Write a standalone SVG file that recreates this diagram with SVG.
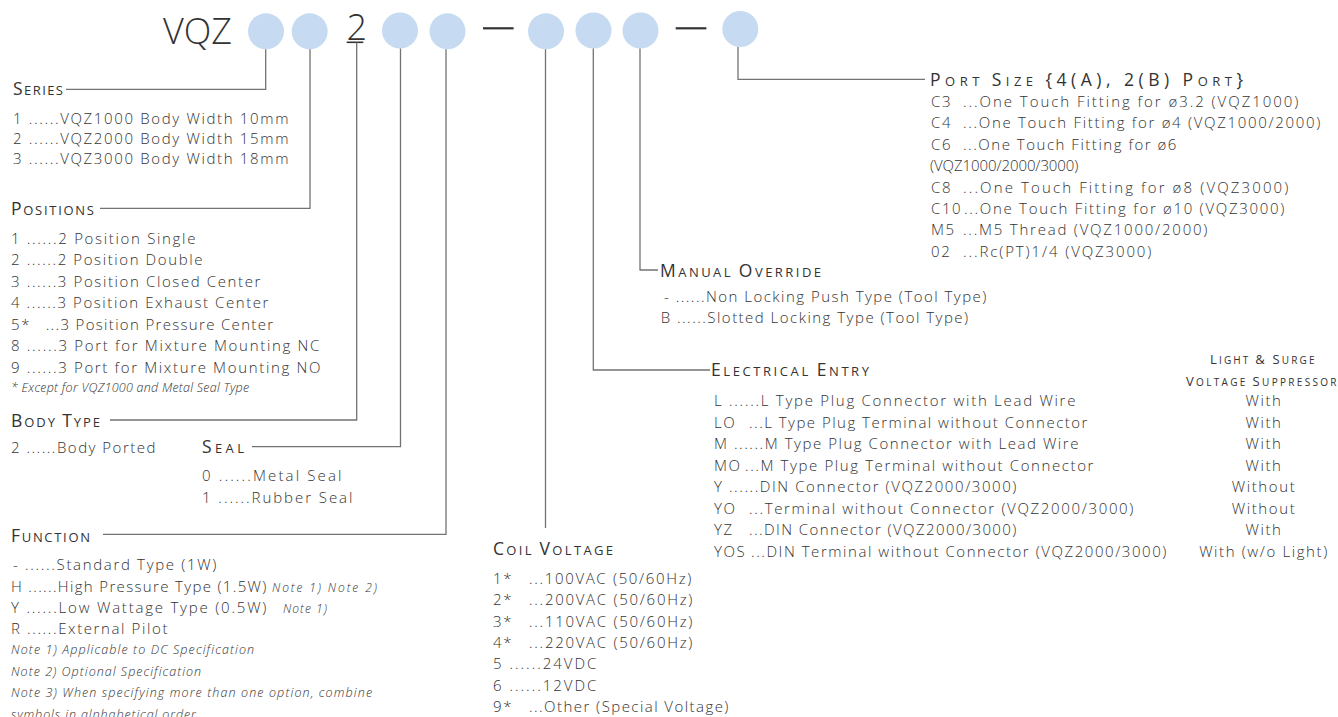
<svg xmlns="http://www.w3.org/2000/svg" width="1338" height="717" viewBox="0 0 1338 717">
<style>
text{font-family:"Open Sans","Liberation Sans",sans-serif;font-weight:300;fill:#333}
.t{font-size:15px;letter-spacing:1.6px}
.n{font-size:12.5px;letter-spacing:0.9px;font-style:italic}
.ni{font-size:12px;letter-spacing:1.2px;font-style:italic}
.h{font-size:17.5px;letter-spacing:2px;font-weight:400}
.s{font-size:13px}
.hl{font-size:13px;letter-spacing:1.5px;font-weight:400}
.sl{font-size:10px}
.big{font-size:36px;letter-spacing:0;fill:#333}
.c{text-anchor:middle}
.dot{fill:#c6dbf1}
.conn{fill:none;stroke:#737373;stroke-width:1.3}
.dash{stroke:#333;stroke-width:2.2}
</style>
<g id="code">
<text class="big" x="163" y="44.3">VQZ</text>
<circle class="dot" cx="266" cy="31.3" r="18"/>
<circle class="dot" cx="309.7" cy="31.3" r="18"/>
<text class="big" x="346.5" y="39.5">2</text>
<line class="dash" x1="346.7" y1="42.3" x2="363.3" y2="42.3" style="stroke-width:1.6"/>
<circle class="dot" cx="400" cy="30.5" r="18"/>
<circle class="dot" cx="447.5" cy="31.3" r="18"/>
<line class="dash" x1="483" y1="28.3" x2="513.6" y2="28.3"/>
<circle class="dot" cx="546" cy="31.3" r="18"/>
<circle class="dot" cx="593.5" cy="30.5" r="18"/>
<circle class="dot" cx="640.5" cy="30.5" r="18"/>
<line class="dash" x1="675.7" y1="28.3" x2="706.4" y2="28.3"/>
<circle class="dot" cx="740.3" cy="29" r="18"/>
</g>
<g id="connectors">
<path class="conn" d="M265.7,49.3 V89.3 H66"/>
<path class="conn" d="M310,49.3 V208.3 H100"/>
<path class="conn" d="M356.7,42.5 V420 H110"/>
<path class="conn" d="M400.5,48.5 V446.7 H252"/>
<path class="conn" d="M446,49.3 V534.3 H103"/>
<path class="conn" d="M545.5,49.3 V528"/>
<path class="conn" d="M593.3,48.5 V370 H710"/>
<path class="conn" d="M640,48.5 V270 H658"/>
<path class="conn" d="M738,47 V79.3 H925"/>
</g>
<g id="series">
<text class="h" x="13" y="95" textLength="52">S<tspan class="s">ERIES</tspan></text>
<text class="t" x="13" y="124.3" textLength="277">1 ......VQZ1000 Body Width 10mm</text>
<text class="t" x="13" y="144.3" textLength="277">2 ......VQZ2000 Body Width 15mm</text>
<text class="t" x="13" y="164.3" textLength="277">3 ......VQZ3000 Body Width 18mm</text>
</g>
<g id="positions">
<text class="h" x="11" y="215" textLength="85">P<tspan class="s">OSITIONS</tspan></text>
<text class="t" x="11" y="243.5" textLength="186">1 ......2 Position Single</text>
<text class="t" x="11" y="265" textLength="193">2 ......2 Position Double</text>
<text class="t" x="11" y="286.5" textLength="251">3 ......3 Position Closed Center</text>
<text class="t" x="11" y="308" textLength="259">4 ......3 Position Exhaust Center</text>
<text class="t" y="329.5"><tspan x="11">5*</tspan><tspan x="45.7" textLength="229">...3 Position Pressure Center</tspan></text>
<text class="t" x="11" y="351" textLength="310">8 ......3 Port for Mixture Mounting NC</text>
<text class="t" x="11" y="372.5" textLength="311">9 ......3 Port for Mixture Mounting NO</text>
<text class="n" x="11" y="392" textLength="239">* Except for VQZ1000 and Metal Seal Type</text>
</g>
<g id="body-type">
<text class="h" x="11" y="426.7" textLength="91">B<tspan class="s">ODY </tspan>T<tspan class="s">YPE</tspan></text>
<text class="t" x="11" y="453.3" textLength="146">2 ......Body Ported</text>
</g>
<g id="seal">
<text class="h" x="202" y="453" textLength="44">S<tspan class="s">EAL</tspan></text>
<text class="t" x="202" y="481" textLength="141">0 ......Metal Seal</text>
<text class="t" x="202" y="502.5" textLength="152">1 ......Rubber Seal</text>
</g>
<g id="function">
<text class="h" x="11" y="541.7" textLength="81">F<tspan class="s">UNCTION</tspan></text>
<text class="t" x="13" y="570" textLength="205">- ......Standard Type (1W)</text>
<text class="t" y="591.7"><tspan x="11" textLength="257">H ......High Pressure Type (1.5W)</tspan><tspan class="ni" x="272" textLength="106">Note 1) Note 2)</tspan></text>
<text class="t" y="613.3"><tspan x="11" textLength="257">Y ......Low Wattage Type (0.5W)</tspan><tspan class="ni" x="283" textLength="45">Note 1)</tspan></text>
<text class="t" x="11" y="634" textLength="158">R ......External Pilot</text>
<text class="n" x="11" y="654" textLength="244">Note 1) Applicable to DC Specification</text>
<text class="n" x="11" y="675.7" textLength="191">Note 2) Optional Specification</text>
<text class="n" x="11" y="696.7" textLength="362">Note 3) When specifying more than one option, combine</text>
<text class="n" x="11" y="718.5">symbols in alphabetical order</text>
</g>
<g id="coil-voltage">
<text class="h" x="493" y="555" textLength="122">C<tspan class="s">OIL </tspan>V<tspan class="s">OLTAGE</tspan></text>
<text class="t" y="584"><tspan x="493">1*</tspan><tspan x="529" textLength="164">...100VAC (50/60Hz)</tspan></text>
<text class="t" y="605.3"><tspan x="493">2*</tspan><tspan x="529" textLength="165">...200VAC (50/60Hz)</tspan></text>
<text class="t" y="626.6"><tspan x="493">3*</tspan><tspan x="529" textLength="165">...110VAC (50/60Hz)</tspan></text>
<text class="t" y="647.9"><tspan x="493">4*</tspan><tspan x="529" textLength="165">...220VAC (50/60Hz)</tspan></text>
<text class="t" x="493" y="669.2" textLength="105">5 ......24VDC</text>
<text class="t" x="493" y="690.5" textLength="105">6 ......12VDC</text>
<text class="t" y="711.8"><tspan x="493">9*</tspan><tspan x="529" textLength="201">...Other (Special Voltage)</tspan></text>
</g>
<g id="port-size">
<text class="h" x="930" y="86" textLength="315">P<tspan class="s">ORT </tspan>S<tspan class="s">IZE </tspan>{4(A), 2(B) P<tspan class="s">ORT</tspan>}</text>
<text class="t" y="107"><tspan x="931">C3</tspan><tspan x="963" textLength="337">...One Touch Fitting for ø3.2 (VQZ1000)</tspan></text>
<text class="t" y="128.4"><tspan x="931">C4</tspan><tspan x="963" textLength="359">...One Touch Fitting for ø4 (VQZ1000/2000)</tspan></text>
<text class="t" y="149.8"><tspan x="931">C6</tspan><tspan x="963" textLength="215">...One Touch Fitting for ø6</tspan></text>
<text class="t" x="930" y="171.2" textLength="150">(VQZ1000/2000/3000)</text>
<text class="t" y="192.6"><tspan x="931">C8</tspan><tspan x="963" textLength="327">...One Touch Fitting for ø8 (VQZ3000)</tspan></text>
<text class="t" y="214"><tspan x="931">C10</tspan><tspan x="964" textLength="322">...One Touch Fitting for ø10 (VQZ3000)</tspan></text>
<text class="t" y="235.4"><tspan x="931">M5</tspan><tspan x="963" textLength="246">...M5 Thread (VQZ1000/2000)</tspan></text>
<text class="t" y="256.8"><tspan x="931">02</tspan><tspan x="963" textLength="190">...Rc(PT)1/4 (VQZ3000)</tspan></text>
</g>
<g id="manual-override">
<text class="h" x="660" y="276.7" textLength="163">M<tspan class="s">ANUAL </tspan>O<tspan class="s">VERRIDE</tspan></text>
<text class="t" x="664" y="301.7" textLength="324">- ......Non Locking Push Type (Tool Type)</text>
<text class="t" x="660.7" y="323.3" textLength="309">B ......Slotted Locking Type (Tool Type)</text>
</g>
<g id="electrical-entry">
<text class="h" x="711" y="376" textLength="160">E<tspan class="s">LECTRICAL </tspan>E<tspan class="s">NTRY</tspan></text>
<text class="t" x="714" y="406" textLength="363">L ......L Type Plug Connector with Lead Wire</text>
<text class="t" y="427.5"><tspan x="714">LO</tspan><tspan x="749" textLength="340">...L Type Plug Terminal without Connector</tspan></text>
<text class="t" x="714" y="449" textLength="366">M ......M Type Plug Connector with Lead Wire</text>
<text class="t" y="470.5"><tspan x="714">MO</tspan><tspan x="745" textLength="350">...M Type Plug Terminal without Connector</tspan></text>
<text class="t" x="714" y="492" textLength="304">Y ......DIN Connector (VQZ2000/3000)</text>
<text class="t" y="513.5"><tspan x="714">YO</tspan><tspan x="749" textLength="386">...Terminal without Connector (VQZ2000/3000)</tspan></text>
<text class="t" y="535"><tspan x="714">YZ</tspan><tspan x="749" textLength="269">...DIN Connector (VQZ2000/3000)</tspan></text>
<text class="t" y="556.5"><tspan x="714">YOS</tspan><tspan x="751" textLength="417">...DIN Terminal without Connector (VQZ2000/3000)</tspan></text>
</g>
<g id="light-surge">
<text class="hl c" x="1263" y="364" textLength="106">L<tspan class="sl">IGHT </tspan>&amp; S<tspan class="sl">URGE</tspan></text>
<text class="hl c" x="1262" y="385.7" textLength="152">V<tspan class="sl">OLTAGE </tspan>S<tspan class="sl">UPPRESSOR</tspan></text>
<text class="t c" x="1264" y="406">With</text>
<text class="t c" x="1264" y="427.5">With</text>
<text class="t c" x="1264" y="449">With</text>
<text class="t c" x="1264" y="470.5">With</text>
<text class="t c" x="1264" y="492">Without</text>
<text class="t c" x="1264" y="513.5">Without</text>
<text class="t c" x="1264" y="535">With</text>
<text class="t c" x="1264" y="556.5">With (w/o Light)</text>
</g>
</svg>
